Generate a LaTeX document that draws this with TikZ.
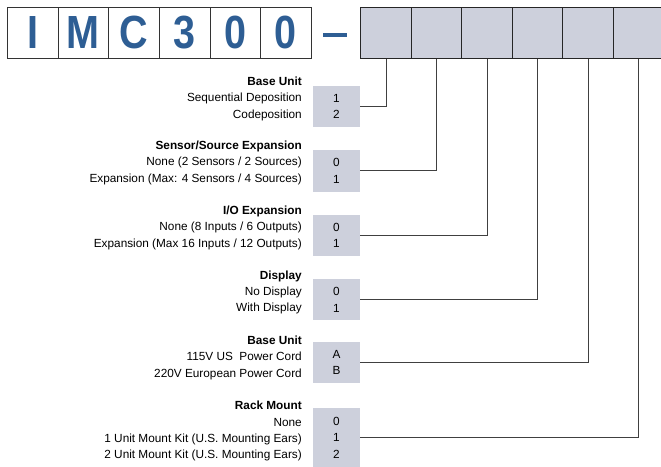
\documentclass[tikz,border=0pt]{standalone}
\usepackage{fontspec}
\setmainfont{Liberation Sans}
\usepackage{graphicx}
\definecolor{codeblue}{HTML}{2E5E94}
\definecolor{slotgray}{HTML}{CDD0DC}
\definecolor{edgegray}{HTML}{333333}
\begin{document}
\begin{tikzpicture}[x=1pt,y=-1pt,
  letterbox/.style={draw=edgegray, line width=0.9pt, fill=white, minimum width=50.67pt, minimum height=51pt, inner sep=0pt, text=codeblue, font=\fontsize{46.5}{46.5}\selectfont\bfseries},
  slot/.style={draw=black!85, line width=1pt, fill=slotgray, minimum width=50.5pt, minimum height=51pt, inner sep=0pt},
  codebox/.style={fill=slotgray, minimum width=47pt, inner sep=0pt, align=center, font=\fontsize{11.8}{16.5}\selectfont},
  desc/.style={anchor=east, align=right, inner sep=0pt, font=\fontsize{11.8}{16.3}\selectfont},
  link/.style={draw=black!75, line width=0.8pt}]
\useasboundingbox (0,0) rectangle (661,466);
% code letters
\node[letterbox] (lI) at (32.63,32.8) {\scalebox{0.85}[1]{I}};
\node[letterbox] (lM) at (83.3,32.8) {\scalebox{0.85}[1]{M}};
\node[letterbox] (lC) at (133.97,32.8) {\scalebox{0.85}[1]{C}};
\node[letterbox] (l3) at (184.64,32.8) {\scalebox{0.85}[1]{3}};
\node[letterbox] (l0a) at (235.31,32.8) {\scalebox{0.85}[1]{0}};
\node[letterbox] (l0b) at (285.98,32.8) {\scalebox{0.85}[1]{0}};
\node[fill=codeblue, minimum width=24pt, minimum height=4.7pt, inner sep=0pt] (dash) at (335.3,35) {};
% option slots
\node[slot] (s1) at (386,32.8) {};
\node[slot] (s2) at (436.5,32.8) {};
\node[slot] (s3) at (487,32.8) {};
\node[slot] (s4) at (537.5,32.8) {};
\node[slot] (s5) at (588,32.8) {};
\node[slot] (s6) at (638.5,32.8) {};
% code boxes
\node[codebox, minimum height=40.7pt] (c1) at (336.5,106.35) {1\\2};
\node[codebox, minimum height=41.7pt] (c2) at (336.5,170.85) {0\\1};
\node[codebox, minimum height=40.7pt] (c3) at (336.5,235.35) {0\\1};
\node[codebox, minimum height=40.7pt] (c4) at (336.5,299.65) {0\\1};
\node[codebox, minimum height=40.7pt] (c5) at (336.5,362.35) {A\\B};
\node[codebox, minimum height=58.7pt] (c6) at (336.5,437.65) {0\\1\\2};
% descriptions
\node[desc] (d1) at (302,98.7) {\textbf{Base Unit}\\Sequential Deposition\\Codeposition};
\node[desc] (d2) at (302,162.9) {\textbf{Sensor/Source Expansion}\\None (2 Sensors / 2 Sources)\\Expansion (Max: 4 Sensors / 4 Sources)};
\node[desc] (d3) at (302,227.9) {\textbf{I/O Expansion}\\None (8 Inputs / 6 Outputs)\\Expansion (Max 16 Inputs / 12 Outputs)};
\node[desc] (d4) at (302,292.4) {\textbf{Display}\\No Display\\With Display};
\node[desc] (d5) at (302,357.7) {\textbf{Base Unit}\\115V US\ \ Power Cord\\220V European Power Cord};
\node[desc] (d6) at (302,431.2) {\textbf{Rack Mount}\\None\\1 Unit Mount Kit (U.S. Mounting Ears)\\2 Unit Mount Kit (U.S. Mounting Ears)};
% connectors
\draw[link] (s1.south) |- (c1.east);
\draw[link] (s2.south) |- (c2.east);
\draw[link] (s3.south) |- (c3.east);
\draw[link] (s4.south) |- (c4.east);
\draw[link] (s5.south) |- (c5.east);
\draw[link] (s6.south) |- (c6.east);
\end{tikzpicture}
\end{document}
